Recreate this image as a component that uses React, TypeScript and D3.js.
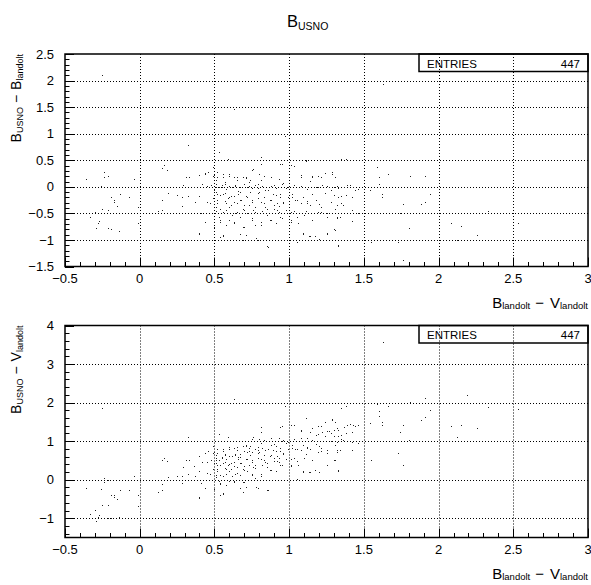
import React from "react";
import * as d3 from "d3";

// B_landolt - V_landolt (x of both panels)
const bvLandolt: number[] = [
  // isolated / left points
  -0.25, 0.63, 0.32, 0.97, 0.53, 0.59, 0.81, 0.16, 0.18, 0.15,
  -0.36, -0.24, -0.24, -0.21, -0.26, -0.04, -0.19, -0.17, -0.17, -0.13,
  -0.15, -0.07, -0.25, -0.3, -0.33, -0.21, -0.27, -0.28, -0.29, -0.21,
  -0.19, -0.14, -0.01, -0.01, 0.12, 0.15, 0.15, 0.19, 0.25, 0.28,
  0.29, 0.31, 0.33, 0.32, 0.28, 0.36, 0.4, 0.41, 0.4, 0.44,
  0.44, 0.45, 0.46, 0.49,
  // dense cluster
  0.5, 0.51, 0.51, 0.5, 0.52, 0.49, 0.52, 0.51, 0.51, 0.53,
  0.54, 0.5, 0.54, 0.56, 0.57, 0.55, 0.58, 0.56, 0.6, 0.57,
  0.61, 0.58, 0.62, 0.6, 0.63, 0.56, 0.63, 0.65, 0.64, 0.66,
  0.63, 0.67, 0.65, 0.69, 0.64, 0.67, 0.7, 0.69, 0.71, 0.71,
  0.73, 0.72, 0.74, 0.71, 0.75, 0.73, 0.76, 0.72, 0.75, 0.77,
  0.79, 0.8, 0.81, 0.82, 0.8, 0.83, 0.81, 0.84, 0.82, 0.85,
  0.81, 0.88, 0.88, 0.9, 0.86, 0.91, 0.88, 0.92, 0.9, 0.93,
  0.94, 0.91, 0.95, 0.98, 0.94, 0.99, 0.96, 0.93, 0.98, 0.76,
  0.83, 0.69, 0.6, 0.52,
  // upper rows
  0.4, 0.44, 0.49, 0.52, 0.56, 0.6, 0.65, 0.69, 0.71, 0.74,
  0.79, 0.75, 0.81, 0.95, 1.01, 1.11, 1.24, 1.29, 1.19, 1.14,
  0.42, 0.45, 0.48, 0.51, 0.53, 0.55, 0.57, 0.6, 0.62, 0.64,
  0.67, 0.7, 0.73, 0.75, 0.77, 0.79, 0.88, 0.91, 0.96, 0.99,
  1.03, 1.08, 1.12, 1.18, 1.22, 1.27, 1.32,
  // middle band
  0.51, 0.54, 0.57, 0.59, 0.61, 0.63, 0.66, 0.68, 0.7, 0.72,
  0.75, 0.77, 0.79, 0.83, 0.85, 0.87, 0.9, 0.92, 0.94, 0.96,
  0.54, 0.56, 0.6, 0.65, 0.7, 0.77, 0.52, 0.58, 0.67, 0.79,
  0.89, 0.84,
  // right of 1
  1.02, 1.05, 1.09, 1.12, 1.15, 1.18, 1.21, 1.24, 1.28, 1.31,
  1.33, 1.01, 1.05, 1.1, 1.15, 1.21, 1.25, 1.32, 1.01, 1.09,
  1.14, 1.25, 1.31, 0.86, 1.33, 1.08, 1.15,
  // lower left
  0.54, 0.58, 0.63, 0.69, 0.75, 0.81, 0.87, 0.95, 0.56, 0.67,
  0.78, 0.4, 0.37, 0.4, 0.47,
  // red stars
  1.63, 1.59, 1.6, 1.66, 1.81, 1.91, 1.6, 1.54, 1.62, 1.62,
  1.76, 1.88, 1.91, 1.94, 1.74, 1.8, 1.55, 1.73, 1.76, 2.19,
  2.33, 2.08, 2.15, 2.26, 2.12, 2.53, 1.29, 1.31, 1.35, 1.38,
  1.25, 1.28, 1.3, 1.33, 1.37, 1.39, 1.41, 1.43, 1.44, 1.46,
  1.3, 1.33, 1.35, 1.38, 1.42, 1.32, 1.35, 1.36, 1.42, 1.25,
  1.32, 1.34, 1.42, 1.46, 1.25, 1.3, 1.33,
  // 1.0 - 1.25 region
  1.03, 1.11, 1.08, 1.15, 1.21, 1.19, 1.25, 0.94, 0.93, 1.02,
  1.04, 1.08, 1.12, 1.14, 1.2, 1.11, 1.03, 1.19, 1.25, 1.01,
  1.06, 1.09, 1.13, 1.05, 1.17, 1.2, 1.25, 0.85,
];

// B_USNO - B_landolt (y of the upper panel)
const usnoMinusB: number[] = [
  2.11, 1.47, 0.79, 0.95, 0.66, 0.53, 0.56, 0.41, 0.31, 0.36,
  0.14, 0.28, 0.19, 0.2, 0.02, 0.14, -0.2, -0.24, -0.29, -0.13,
  -0.36, -0.2, -0.41, -0.48, -0.56, -0.44, -0.64, -0.68, -0.77, -0.78,
  -0.8, -0.83, -0.68, -0.38, -0.45, -0.43, -0.25, -0.11, -0.16, -0.19,
  0.04, 0.19, 0.19, -0.17, -0.36, 0.0, 0.22, -0.5, -0.86, -0.66,
  0.25, -0.28, 0.28, 0.38,
  0.22, 0.13, 0.0, -0.06, -0.14, -0.22, -0.3, -0.38, -0.45, -0.56,
  -0.66, -0.75, -0.94, 0.19, 0.09, 0.0, -0.05, -0.13, -0.19, -0.26,
  -0.34, -0.44, -0.53, -0.63, -0.68, -0.93, 0.19, 0.13, 0.01, -0.08,
  -0.18, -0.24, -0.31, -0.41, -0.49, -0.56, -0.75, -1.0, -0.91, 0.19,
  0.09, 0.0, -0.09, -0.18, -0.25, -0.34, -0.43, -0.5, -0.63, -0.72,
  -1.0, 0.25, 0.13, 0.01, -0.09, -0.19, -0.28, -0.38, -0.45, -0.53,
  -0.66, -0.63, 0.19, 0.03, -0.06, -0.16, -0.24, -0.31, -0.41, -0.47,
  -0.56, -0.69, 0.06, -0.03, -0.13, -0.19, -0.28, -0.36, -0.44, 0.34,
  0.2, 0.19, 0.2, 0.28,
  0.22, 0.26, 0.2, 0.18, 0.24, 0.24, 0.19, 0.18, 0.16, 0.13,
  0.06, 0.31, 0.43, 0.43, 0.41, 0.49, 0.26, 0.28, 0.2, 0.11,
  0.05, 0.01, 0.03, 0.06, -0.01, 0.03, 0.06, 0.01, -0.01, 0.03,
  0.0, 0.05, 0.01, -0.03, 0.03, -0.02, 0.01, -0.03, 0.08, -0.01,
  0.03, 0.01, -0.05, -0.01, 0.03, 0.0, 0.01,
  -0.09, -0.16, -0.11, -0.22, -0.18, -0.28, -0.13, -0.24, -0.34, -0.19,
  -0.28, -0.38, -0.22, -0.31, -0.41, -0.25, -0.34, -0.44, -0.19, -0.3,
  -0.41, -0.47, -0.38, -0.47, -0.44, -0.47, -0.25, -0.31, -0.09, -0.11,
  -0.13, -0.06,
  -0.13, -0.25, -0.19, -0.31, -0.13, -0.25, -0.38, -0.11, -0.28, -0.41,
  -0.19, -0.47, -0.56, -0.53, -0.63, -0.47, -0.56, -0.59, -0.66, -0.88,
  -0.93, -0.88, -0.81, -1.13, -1.09, 0.22, 0.18,
  -0.63, -0.72, -0.66, -0.75, -0.59, -0.72, -0.63, -0.58, -0.91, -0.88,
  -0.97, -0.88, -0.28, -0.18, -0.31,
  1.93, 0.38, 0.19, 0.25, 0.21, 0.2, 0.05, -0.06, -0.13, -0.19,
  -0.33, -0.33, -0.29, -0.14, -0.5, -0.78, -1.04, -1.03, -1.38, 0.0,
  -0.45, -0.69, -0.73, -0.91, -1.0, -0.69, 0.25, 0.18, 0.52, 0.52,
  0.02, -0.06, -0.01, -0.03, 0.0, 0.03, 0.04, 0.0, -0.06, -0.04,
  -0.16, -0.19, -0.18, -0.16, -0.19, -0.34, -0.3, -0.34, -0.43, -0.49,
  -0.56, -0.56, -0.64, -0.5, -0.86, -0.8, -1.11,
  0.39, 0.5, 0.19, 0.2, 0.19, 0.0, 0.01, 0.43, 0.14, -0.19,
  -0.25, -0.3, -0.26, -0.34, -0.33, -0.45, -0.46, -0.47, -0.49, -0.63,
  -0.69, -0.86, -0.93, -1.03, -0.93, -0.99, -0.86, -1.11,
];

// B_USNO - V_landolt = (B_USNO - B_landolt) + (B_landolt - V_landolt)
const usnoMinusV: number[] = bvLandolt.map(
  (bv, i) => Math.round((bv + usnoMinusB[i]) * 100) / 100
);

const xTickValues = [-0.5, 0, 0.5, 1, 1.5, 2, 2.5, 3];
const topYTickValues = [-1.5, -1, -0.5, 0, 0.5, 1, 1.5, 2, 2.5];
const bottomYTickValues = [-1, 0, 1, 2, 3, 4];
const entriesCount = 447;

const FONT = "'Liberation Sans', Arial, Helvetica, sans-serif";
const LEFT = 65;
const RIGHT = 588;

const fmt = (v: number) => (v < 0 ? "\u2212" + String(Math.abs(v)) : String(v));

type PanelProps = {
  top: number;
  bottom: number;
  yDomain: [number, number];
  yTicks: number[];
  yMinorStep: number;
  ys: number[];
  secondLetter: string;
};

function Panel({ top, bottom, yDomain, yTicks, yMinorStep, ys, secondLetter }: PanelProps) {
  const x = d3.scaleLinear().domain([-0.5, 3]).range([LEFT, RIGHT]);
  const y = d3.scaleLinear().domain(yDomain).range([bottom, top]);

  const xMinor = d3.range(-5, 31).map((i) => i / 10);
  const yMinor = d3
    .range(Math.ceil(yDomain[0] / yMinorStep - 1e-6), Math.floor(yDomain[1] / yMinorStep + 1e-6) + 1)
    .map((i) => i * yMinorStep);
  const isMajor = (v: number, step: number) => Math.abs(v / step - Math.round(v / step)) < 1e-6;
  const yMajorStep = yTicks[1] - yTicks[0];

  const px = (v: number) => Math.round(v) + 0.5;

  return (
    <g>
      {xTickValues
        .filter((v) => v > -0.5 && v < 3)
        .map((v) => (
          <line
            key={"gx" + v}
            x1={px(x(v))}
            x2={px(x(v))}
            y1={top}
            y2={bottom}
            stroke="#000"
            strokeWidth={1}
            strokeDasharray="1,2"
          />
        ))}
      {yTicks
        .filter((v) => v > yDomain[0] && v < yDomain[1])
        .map((v) => (
          <line
            key={"gy" + v}
            x1={LEFT}
            x2={RIGHT}
            y1={px(y(v))}
            y2={px(y(v))}
            stroke="#000"
            strokeWidth={1}
            strokeDasharray="1,2"
          />
        ))}
      {bvLandolt.map((bv, i) => (
        <rect
          key={"p" + i}
          x={Math.round(x(bv))}
          y={Math.round(y(ys[i]))}
          width={1}
          height={1}
          fill="#222"
          shapeRendering="crispEdges"
        />
      ))}
      {xMinor.map((v) => {
        const len = isMajor(v, 0.5) ? 9 : 4.5;
        return (
          <line
            key={"tx" + v}
            x1={px(x(v))}
            x2={px(x(v))}
            y1={bottom}
            y2={bottom - len}
            stroke="#000"
            strokeWidth={1}
          />
        );
      })}
      {yMinor.map((v) => {
        const len = isMajor(v, yMajorStep) ? 9 : 4.5;
        return (
          <line
            key={"ty" + v}
            x1={LEFT}
            x2={LEFT + len}
            y1={px(y(v))}
            y2={px(y(v))}
            stroke="#000"
            strokeWidth={1}
          />
        );
      })}
      <rect
        x={LEFT}
        y={top}
        width={RIGHT - LEFT}
        height={bottom - top}
        fill="none"
        stroke="#000"
        strokeWidth={1.5}
      />
      <rect x={419} y={top} width={RIGHT - 419} height={17.5} fill="none" stroke="#000" strokeWidth={1.5} />
      <text x={427} y={top + 13.5} fontSize={11.5} fontFamily={FONT} fill="#000">
        ENTRIES
      </text>
      <text x={580} y={top + 13.5} fontSize={11.5} fontFamily={FONT} fill="#000" textAnchor="end">
        {entriesCount}
      </text>
      {xTickValues.map((v) => (
        <text
          key={"lx" + v}
          x={x(v)}
          y={bottom + 16}
          fontSize={13}
          fontFamily={FONT}
          textAnchor="middle"
          fill="#000"
        >
          {fmt(v)}
        </text>
      ))}
      {yTicks.map((v) => (
        <text
          key={"ly" + v}
          x={54}
          y={y(v)}
          dy="0.36em"
          fontSize={13}
          fontFamily={FONT}
          textAnchor="end"
          fill="#000"
        >
          {fmt(v)}
        </text>
      ))}
      <text x={588} y={bottom + 41} fontSize={15} fontFamily={FONT} textAnchor="end" fill="#000">
        B
        <tspan fontSize={9.5} dy={1.5}>
          landolt
        </tspan>
        <tspan dy={-1.5} dx={5}>
          {"\u2212"}
        </tspan>
        <tspan dx={6}>V</tspan>
        <tspan fontSize={9.5} dy={1.5}>
          landolt
        </tspan>
      </text>
      <text
        transform={`translate(21, ${top}) rotate(-90)`}
        fontSize={14}
        fontFamily={FONT}
        textAnchor="end"
        fill="#000"
      >
        B
        <tspan fontSize={9} dy={2}>
          USNO
        </tspan>
        <tspan dy={-2} dx={4}>
          {"\u2212"}
        </tspan>
        <tspan dx={5}>{secondLetter}</tspan>
        <tspan fontSize={9} dy={2}>
          landolt
        </tspan>
      </text>
    </g>
  );
}

export default function App() {
  return (
    <svg
      width={591}
      height={585}
      viewBox="0 0 591 585"
      style={{ display: "block", position: "absolute", left: 0, top: 0, background: "#fff" }}
    >
      <rect x={0} y={0} width={591} height={585} fill="#fff" />
      <text x={287} y={26.5} fontSize={16.5} fontFamily={FONT} fill="#000">
        B
        <tspan fontSize={10.5} dy={3}>
          USNO
        </tspan>
      </text>
      <Panel
        top={54}
        bottom={266.5}
        yDomain={[-1.5, 2.5]}
        yTicks={topYTickValues}
        yMinorStep={0.1}
        ys={usnoMinusB}
        secondLetter="B"
      />
      <Panel
        top={325.5}
        bottom={537.5}
        yDomain={[-1.5, 4]}
        yTicks={bottomYTickValues}
        yMinorStep={0.2}
        ys={usnoMinusV}
        secondLetter="V"
      />
    </svg>
  );
}
